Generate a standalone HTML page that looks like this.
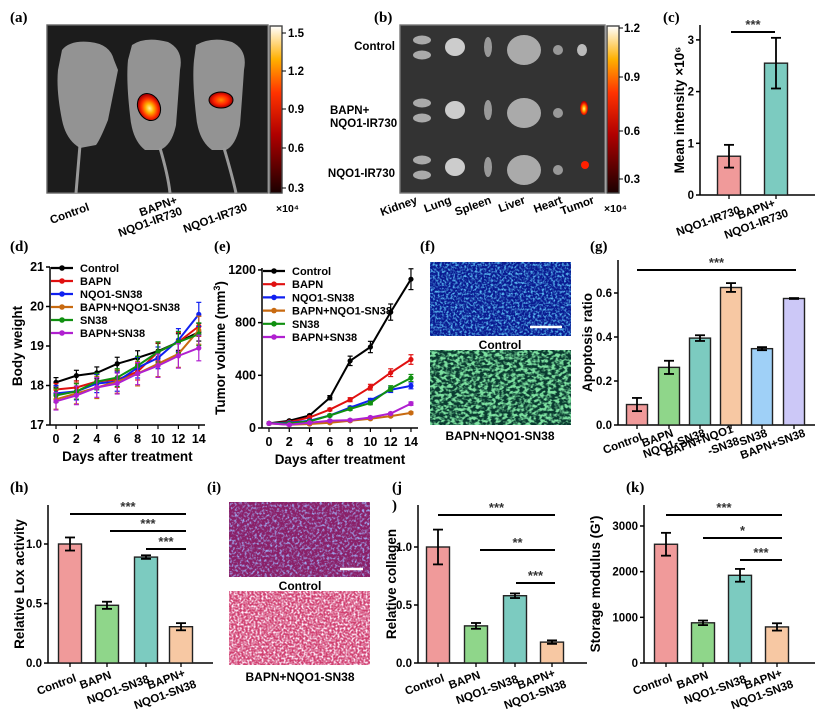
<!DOCTYPE html>
<html><head><meta charset="utf-8"><style>
html,body{margin:0;padding:0;background:#fff;}
svg{display:block;font-family:"Liberation Sans",Arial,sans-serif;}
.pl{font-family:"Liberation Serif",serif;font-weight:bold;font-size:15px;}
.tk{font-weight:bold;font-size:11.5px;}
.al{font-weight:bold;font-size:13.5px;}
</style></head><body>
<svg id="s" width="827" height="713" viewBox="0 0 827 713" xmlns="http://www.w3.org/2000/svg">
<defs>
<linearGradient id="hot" x1="0" y1="1" x2="0" y2="0">
<stop offset="0" stop-color="#1a0000"/><stop offset="0.35" stop-color="#b00000"/><stop offset="0.6" stop-color="#ff3300"/><stop offset="0.8" stop-color="#ffb000"/><stop offset="1" stop-color="#ffffff"/>
</linearGradient>
<radialGradient id="glow" cx="0.5" cy="0.55" r="0.5"><stop offset="0" stop-color="#fff6a0"/><stop offset="0.35" stop-color="#ffb000"/><stop offset="0.7" stop-color="#ff3000"/><stop offset="1" stop-color="#b00000"/></radialGradient>
<radialGradient id="glow2" cx="0.5" cy="0.5" r="0.5"><stop offset="0" stop-color="#ff8a00"/><stop offset="0.6" stop-color="#ff2000"/><stop offset="1" stop-color="#a00000"/></radialGradient>
<filter id="nb" x="0" y="0" width="100%" height="100%"><feTurbulence type="fractalNoise" baseFrequency="0.45" numOctaves="2" seed="3"/><feColorMatrix values="0 0 0 0 0.1  0 0 0 0 0.5  0 0 0 0 0.9  0 0 0 3 -1.3"/></filter>
<filter id="ng" x="0" y="0" width="100%" height="100%"><feTurbulence type="fractalNoise" baseFrequency="0.25 0.35" numOctaves="2" seed="7"/><feColorMatrix values="0 0 0 0 0.2  0 0 0 0 0.75  0 0 0 0 0.35  0 0 0 4 -1.6"/></filter>
<filter id="np" x="0" y="0" width="100%" height="100%"><feTurbulence type="fractalNoise" baseFrequency="0.4" numOctaves="2" seed="5"/><feColorMatrix values="0 0 0 0 0.35  0 0 0 0 0.45  0 0 0 0 0.95  0 0 0 3 -1.4"/></filter>
<filter id="nw" x="0" y="0" width="100%" height="100%"><feTurbulence type="fractalNoise" baseFrequency="0.5" numOctaves="2" seed="9"/><feColorMatrix values="0 0 0 0 1  0 0 0 0 0.9  0 0 0 0 1  0 0 0 3 -1.2"/></filter>
</defs>
<g id="g"></g>
</svg>
<script>
var G=document.getElementById('g'),S='';
function L(x1,y1,x2,y2,c,w){S+='<line x1="'+x1+'" y1="'+y1+'" x2="'+x2+'" y2="'+y2+'" stroke="'+(c||'#000')+'" stroke-width="'+(w||1.5)+'"/>';}
function T(x,y,s,cl,a,rot,extra){S+='<text x="'+x+'" y="'+y+'" class="'+(cl||'tk')+'" text-anchor="'+(a||'start')+'"'+(rot!=null?' transform="rotate('+rot+' '+x+' '+y+')"':'')+(extra||'')+'>'+s+'</text>';}
function R(x,y,w,h,f,st){S+='<rect x="'+x+'" y="'+y+'" width="'+w+'" height="'+h+'" fill="'+f+'"'+(st?' stroke="'+st+'" stroke-width="1.4"':'')+'/>';}
T(10,22,'(a)','pl');T(374,22,'(b)','pl');T(663,22,'(c)','pl');
T(10,251,'(d)','pl');T(214,251,'(e)','pl');T(420,251,'(f)','pl');T(590,251,'(g)','pl');
T(10,492,'(h)','pl');T(207,492,'(i)','pl');T(392,492,'(j','pl');T(392,510,')','pl');T(626,492,'(k)','pl');
R(47,25,221,168,'#1c1c1c','#666');
S+='<g fill="#a8a8a8" opacity="0.85">';
S+='<path d="M62 50 Q70 40 90 42 Q110 44 114 60 L118 70 Q112 100 108 120 Q100 140 96 145 L80 148 Q66 140 62 120 Q56 90 58 70 Z"/>';
S+='<path d="M132 45 Q145 36 168 42 Q184 50 180 70 Q178 100 176 125 Q172 145 160 150 L145 150 Q132 140 130 115 Q126 80 128 60 Z"/>';
S+='<path d="M196 45 Q212 36 232 42 Q248 50 244 70 Q242 100 240 125 Q236 145 226 150 L212 150 Q198 140 196 115 Q192 80 194 60 Z"/>';
S+='</g>';
S+='<path d="M80 145 Q78 170 76 193 M160 148 Q168 175 170 193 M224 148 Q232 175 236 193" stroke="#999" stroke-width="3" fill="none"/>';
S+='<ellipse cx="149" cy="107" rx="11" ry="14" fill="url(#glow)" stroke="#000" stroke-width="1" transform="rotate(-25 149 107)"/>';
S+='<ellipse cx="221" cy="100" rx="12" ry="8" fill="url(#glow2)" stroke="#000" stroke-width="1"/>';
R(270,26,12,167,'url(#hot)','#444');
[[33,'1.5'],[71,'1.2'],[109,'0.9'],[148,'0.6'],[188,'0.3']].forEach(function(t){L(282,t[0],286,t[0],'#000',1);T(288,t[0]+4,t[1]);});
T(276,212,'×10⁴','tk','start',null,' style="font-size:10.5px"');
T(90,210,'Control','tk','end',-20);T(178,203,'BAPN+','tk','end',-20);T(183,214,'NQO1-IR730','tk','end',-20);T(248,210,'NQO1-IR730','tk','end',-20);
R(400,25,205,168,'#333','#777');
[47,110,167].forEach(function(y,ri){
 S+='<ellipse cx="422" cy="'+(y-7)+'" rx="9" ry="4.5" fill="#aaa"/><ellipse cx="422" cy="'+(y+8)+'" rx="9" ry="4.5" fill="#aaa"/>';
 S+='<ellipse cx="455" cy="'+y+'" rx="10" ry="9" fill="#ccc"/>';
 S+='<ellipse cx="488" cy="'+y+'" rx="4" ry="10" fill="#999"/>';
 S+='<ellipse cx="524" cy="'+(y+3)+'" rx="17" ry="15" fill="#aaa"/>';
 S+='<ellipse cx="558" cy="'+(y+3)+'" rx="5" ry="5" fill="#999"/>';
 if(ri==0) S+='<ellipse cx="582" cy="'+(y+3)+'" rx="5" ry="6" fill="#bbb"/>';
});
S+='<ellipse cx="584" cy="108" rx="4" ry="7" fill="url(#glow)"/><ellipse cx="585" cy="165" rx="4" ry="4" fill="#ff2000"/>';
R(607,26,12,167,'url(#hot)','#444');
[[28,'1.2'],[77,'0.9'],[131,'0.6'],[179,'0.3']].forEach(function(t){L(619,t[0],623,t[0],'#000',1);T(624,t[0]+4,t[1]);});
T(604,212,'×10⁴','tk','start',null,' style="font-size:10.5px"');
T(395,50,'Control','tk','end');T(330,114,'BAPN+','tk','start');T(330,127,'NQO1-IR730','tk','start');T(395,177,'NQO1-IR730','tk','end');
[['Kidney',418],['Lung',452],['Spleen',492],['Liver',526],['Heart',563],['Tumor',595]].forEach(function(o){T(o[1],203,o[0],'tk','end',-20);});
function bars(o){
 L(o.ax,o.top,o.ax,o.y0);L(o.ax,o.y0,o.xe,o.y0);
 o.ticks.forEach(function(t){var y=o.y0-(t[0]-o.min)*o.k;L(o.ax-4,y,o.ax,y);T(o.ax-6,y+4,t[1],'tk','end');});
 o.b.forEach(function(b){var y=o.y0-(b[1]-o.min)*o.k;R(b[0]-o.w/2,y,o.w,o.y0-y,b[3],'#222');
  var e1=o.y0-(b[1]+b[2]-o.min)*o.k,e2=o.y0-(b[1]-b[2]-o.min)*o.k;L(b[0],e1,b[0],e2,'#000',1.8);L(b[0]-5,e1,b[0]+5,e1,'#000',1.8);L(b[0]-5,e2,b[0]+5,e2,'#000',1.8);L(b[0],o.y0,b[0],o.y0+4,'#000',1.3);});
 (o.sig||[]).forEach(function(s){L(s[0],s[2],s[1],s[2],'#000',2);T((s[0]+s[1])/2,s[2]-3,s[3],'tk','middle',null,' style="font-size:13px;fill:#333"');});
 T(o.lx,(o.top+o.y0)/2,o.yl,'al','middle',-90);
 o.xl.forEach(function(x){if(x.length==3)T(x[0],x[1],x[2],'tk','end',-20);});
}
var C1='#f09a9a',C2='#8fd68a',C3='#7ccbc0',C4='#f7c8a3',C5='#9fd0f7',C6='#ccc8f7';
bars({ax:700,top:25,y0:195,xe:815,min:0,k:51.7,w:23,ticks:[[0,'0'],[1,'1'],[2,'2'],[3,'3']],
 b:[[729,0.75,0.22,C1],[776,2.55,0.49,C3]],sig:[[731,775,32,'***']],lx:684,yl:'Mean intensity ×10⁶',
 xl:[[741,213,'NQO1-IR730'],[776,206,'BAPN+'],[789,216,'NQO1-IR730']]});
bars({ax:618,top:260,y0:425,xe:815,min:0,k:220,w:21,ticks:[[0,'0.0'],[0.2,'0.2'],[0.4,'0.4'],[0.6,'0.6']],
 b:[[637,0.093,0.03,C1],[669,0.262,0.03,C2],[700,0.395,0.013,C3],[731,0.625,0.02,C4],[762,0.347,0.007,C5],[794,0.575,0.002,C6]],
 sig:[[637,796,270,'***']],lx:592,yl:'Apoptosis ratio',
 xl:[[643,440,'Control'],[674,436,'BAPN'],[706,436,'NQO1-SN38'],[734,432,'BAPN+NQO1'],[740,444,'-SN38'],[768,436,'SN38'],[806,436,'BAPN+SN38']]});
bars({ax:48,top:505,y0:663,xe:213,min:0,k:119,w:23,ticks:[[0,'0.0'],[0.5,'0.5'],[1,'1.0']],
 b:[[70,1.0,0.055,C1],[107,0.485,0.03,C2],[146,0.89,0.015,C3],[181,0.305,0.03,C4]],
 sig:[[70,186,514,'***'],[110,186,531,'***'],[146,186,549,'***']],lx:24,yl:'Relative Lox activity',
 xl:[[77,681,'Control'],[112,678,'BAPN'],[150,682,'NQO1-SN38'],[186,676,'BAPN+'],[197,687,'NQO1-SN38']]});
bars({ax:418,top:505,y0:663,xe:587,min:0,k:116,w:23,ticks:[[0,'0.0'],[0.5,'0.5'],[1,'1.0']],
 b:[[438,1.0,0.15,C1],[476,0.32,0.025,C2],[515,0.58,0.02,C3],[552,0.18,0.015,C4]],
 sig:[[438,555,515,'***'],[480,555,550,'**'],[516,555,583,'***']],lx:396,yl:'Relative collagen',
 xl:[[445,681,'Control'],[481,678,'BAPN'],[519,682,'NQO1-SN38'],[556,676,'BAPN+'],[567,687,'NQO1-SN38']]});
bars({ax:644,top:505,y0:663,xe:815,min:0,k:0.04567,w:23,ticks:[[0,'0'],[1000,'1000'],[2000,'2000'],[3000,'3000']],
 b:[[666,2600,250,C1],[703,880,50,C2],[740,1920,140,C3],[777,790,80,C4]],
 sig:[[666,782,515,'***'],[703,782,538,'*'],[740,782,560,'***']],lx:600,yl:"Storage modulus (G')",
 xl:[[673,681,'Control'],[709,678,'BAPN'],[747,682,'NQO1-SN38'],[783,676,'BAPN+'],[794,687,'NQO1-SN38']]});
var cols=['#000','#e01010','#1020f0','#c86a10','#109010','#b020d0'],names=['Control','BAPN','NQO1-SN38','BAPN+NQO1-SN38','SN38','BAPN+SN38'];
function lines(o){
 L(o.ax,o.top,o.ax,o.y0);L(o.ax,o.y0,o.xe,o.y0);
 o.ticks.forEach(function(t){var y=o.y0-(t[0]-o.min)*o.k;L(o.ax-4,y,o.ax,y);T(o.ax-6,y+4,t[1],'tk','end',null,' style="font-size:12.5px"');});
 for(var d=0;d<=14;d+=2){var x=o.x0+d*o.dx;L(x,o.y0,x,o.y0+4,'#000',1.2);T(x,o.y0+18,d,'tk','middle',null,' style="font-size:12.5px"');}
 T((o.x0+o.x0+14*o.dx)/2,o.y0+36,'Days after treatment','al','middle');
 T(o.lx,(o.top+o.y0)/2,o.yl,'al','middle',-90);
 o.data.forEach(function(ser,i){var p='';ser.forEach(function(v,j){var x=o.x0+j*2*o.dx,y=o.y0-(v-o.min)*o.k;p+=(j?'L':'M')+x+' '+y;
   var e=o.err[i][j]*o.k;L(x,y-e,x,y+e,cols[i],1.2);L(x-2.5,y-e,x+2.5,y-e,cols[i],1.2);L(x-2.5,y+e,x+2.5,y+e,cols[i],1.2);});
  S+='<path d="'+p+'" fill="none" stroke="'+cols[i]+'" stroke-width="2"/>';
  ser.forEach(function(v,j){var x=o.x0+j*2*o.dx,y=o.y0-(v-o.min)*o.k;S+='<circle cx="'+x+'" cy="'+y+'" r="2.6" fill="'+cols[i]+'"/>';});});
 names.forEach(function(n,i){var y=o.ly+i*o.lh;L(o.lx1,y,o.lx1+22,y,cols[i],2.2);S+='<circle cx="'+(o.lx1+11)+'" cy="'+y+'" r="2.8" fill="'+cols[i]+'"/>';T(o.lx1+29,y+4,n,'tk','start',null,' style="font-size:11px"');});
}
var dd=[[18.08,18.25,18.32,18.55,18.7,18.87,19.1,19.35],[17.9,17.95,18.1,18.15,18.35,18.85,19.1,19.5],[17.8,17.85,18.05,18.1,18.45,18.7,19.15,19.8],[17.65,17.8,17.95,18.1,18.3,18.55,18.8,19.4],[17.75,17.85,18.1,18.2,18.5,18.85,19.1,19.3],[17.6,17.75,17.95,18.05,18.3,18.5,18.75,18.95]];
var de=dd.map(function(s,i){return s.map(function(v,j){return [0.12,0.15,0.2,0.25,0.18,0.22][i]+j*0.015;});});
lines({ax:50,top:267,y0:425,xe:205,min:17,k:39.5,x0:56,dx:10.2,ticks:[[17,'17'],[18,'18'],[19,'19'],[20,'20'],[21,'21']],
 data:dd,err:de,lx:22,yl:'Body weight',lx1:51,ly:268,lh:13});
var ed=[[35,55,95,230,510,615,880,1130],[35,45,80,140,215,310,420,520],[35,40,55,95,155,210,290,320],[35,25,30,40,55,70,90,115],[35,35,50,95,145,190,300,380],[35,25,40,55,60,80,110,185]];
var ee=ed.map(function(s){return s.map(function(v){return Math.max(8,v*0.07);});});
lines({ax:262,top:268,y0:428,xe:418,min:0,k:0.1317,x0:269,dx:10.14,ticks:[[0,'0'],[400,'400'],[800,'800'],[1200,'1200']],
 data:ed,err:ee,lx:225,yl:'Tumor volume (mm<tspan dy="-5" style="font-size:9px">3</tspan><tspan dy="5">)</tspan>',lx1:263,ly:271,lh:13.2});
R(430,262,141,74,'#0a1a90');S+='<rect x="430" y="262" width="141" height="74" filter="url(#nb)"/>';L(530,327,562,327,'#fff',2.5);
T(500,349,'Control','tk','middle',null,' style="font-size:12px"');
R(430,350,141,75,'#0a3a30');S+='<rect x="430" y="350" width="141" height="75" filter="url(#ng)"/>';
T(500,440,'BAPN+NQO1-SN38','tk','middle',null,' style="font-size:12px"');
R(229,502,141,75,'#8a2068');S+='<rect x="229" y="502" width="141" height="75" filter="url(#np)"/>';L(340,569,363,569,'#fff',2.5);
T(300,590,'Control','tk','middle',null,' style="font-size:12px"');
R(229,591,141,74,'#d04070');S+='<rect x="229" y="591" width="141" height="74" filter="url(#nw)"/>';
T(300,681,'BAPN+NQO1-SN38','tk','middle',null,' style="font-size:12px"');
G.innerHTML=S;
</script>
</body></html>
